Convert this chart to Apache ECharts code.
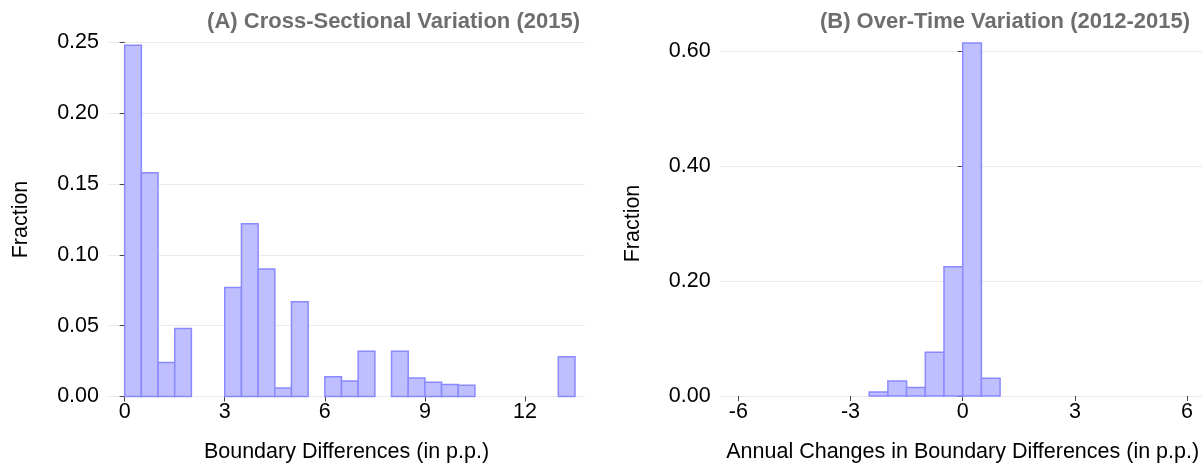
<!DOCTYPE html>
<html>
<head>
<meta charset="utf-8">
<title>Boundary Differences</title>
<script src="https://cdn.jsdelivr.net/npm/echarts@6/dist/echarts.min.js"></script>
<style>
  html, body { margin: 0; padding: 0; background: #ffffff; }
  #chart { width: 1202px; height: 463px; }
</style>
</head>
<body>
<div id="chart"></div>
<script>
// Histogram bin width (percentage points)
const BIN_WIDTH = 0.5;

// Panel A: cross-sectional distribution, 2015 (bin start, fraction)
const crossBinStarts = [0, 0.5, 1, 1.5, 3, 3.5, 4, 4.5, 5, 6, 6.5, 7, 8, 8.5, 9, 9.5, 10, 13];
const crossFractions = [0.248, 0.158, 0.024, 0.048, 0.077, 0.122, 0.090, 0.006, 0.067, 0.014, 0.011, 0.032, 0.032, 0.013, 0.010, 0.0085, 0.008, 0.028];

// Panel B: annual changes, 2012-2015 (bin start, fraction)
const changeBinStarts = [-2.5, -2, -1.5, -1, -0.5, 0, 0.5];
const changeFractions = [0.007, 0.026, 0.015, 0.076, 0.225, 0.614, 0.031];

// Tick labels
const crossXTicks = [0, 3, 6, 9, 12];
const changeXTicks = [-6, -3, 0, 3, 6];

const FONT = '"Liberation Sans", Arial, Helvetica, sans-serif';
const BAR_FILL = '#bfbfff';
const BAR_STROKE = '#8a8aff';

function histRect(params, api) {
  const start = api.value(0);
  const frac = api.value(1);
  const topLeft = api.coord([start, frac]);
  const bottomRight = api.coord([start + BIN_WIDTH, 0]);
  return {
    type: 'rect',
    shape: {
      x: topLeft[0],
      y: topLeft[1],
      width: bottomRight[0] - topLeft[0],
      height: bottomRight[1] - topLeft[1]
    },
    style: { fill: BAR_FILL, stroke: BAR_STROKE, lineWidth: 1.5 }
  };
}

function zip(xs, ys) { return xs.map((x, i) => [x, ys[i]]); }

function valueXAxis(gridIndex, min, max, ticks, name) {
  return {
    type: 'value', gridIndex, min, max,
    axisLine: { show: false },
    axisTick: { show: true, length: 5, customValues: ticks, lineStyle: { color: '#444', width: 1 } },
    axisLabel: { customValues: ticks, margin: 5, color: '#000', fontSize: 21.5, fontFamily: FONT },
    splitLine: { show: false },
    name, nameLocation: 'middle', nameGap: 45,
    nameTextStyle: { color: '#000', fontSize: 21.5, fontFamily: FONT }
  };
}

function fracYAxis(gridIndex, max, interval) {
  return {
    type: 'value', gridIndex, min: 0, max, interval,
    axisLine: { show: false },
    axisTick: { show: true, length: 5, lineStyle: { color: '#444', width: 1 } },
    axisLabel: { margin: 9, color: '#000', fontSize: 21.5, fontFamily: FONT, formatter: v => v.toFixed(2) },
    splitLine: { show: true, lineStyle: { color: '#ebebeb', width: 1 } },
    name: 'Fraction', nameLocation: 'middle', nameGap: 76,
    nameTextStyle: { color: '#000', fontSize: 21.5, fontFamily: FONT }
  };
}

const chart = echarts.init(document.getElementById('chart'), null, { renderer: 'canvas' });

chart.setOption({
  animation: false,
  backgroundColor: '#ffffff',
  title: [
    {
      text: '(A) Cross-Sectional Variation (2015)',
      right: 617, top: 6,
      textStyle: { color: '#6e6e6e', fontSize: 22, fontWeight: 'bold', fontFamily: FONT }
    },
    {
      text: '(B) Over-Time Variation (2012-2015)',
      right: 7, top: 6,
      textStyle: { color: '#6e6e6e', fontSize: 22, fontWeight: 'bold', fontFamily: FONT }
    }
  ],
  grid: [
    { left: 108, top: 42.5, width: 477, height: 354, outerBoundsMode: 'none', containLabel: false },
    { left: 719.6, top: 51, width: 486.2, height: 345, outerBoundsMode: 'none', containLabel: false }
  ],
  xAxis: [
    valueXAxis(0, -0.5, 13.8, crossXTicks, 'Boundary Differences (in p.p.)'),
    valueXAxis(1, -6.5, 6.5, changeXTicks, 'Annual Changes in Boundary Differences (in p.p.)')
  ],
  yAxis: [
    fracYAxis(0, 0.25, 0.05),
    fracYAxis(1, 0.6, 0.2)
  ],
  series: [
    {
      type: 'custom', xAxisIndex: 0, yAxisIndex: 0, clip: false,
      renderItem: histRect,
      encode: { x: 0, y: 1 },
      data: zip(crossBinStarts, crossFractions)
    },
    {
      type: 'custom', xAxisIndex: 1, yAxisIndex: 1, clip: false,
      renderItem: histRect,
      encode: { x: 0, y: 1 },
      data: zip(changeBinStarts, changeFractions)
    }
  ]
});
</script>
</body>
</html>
